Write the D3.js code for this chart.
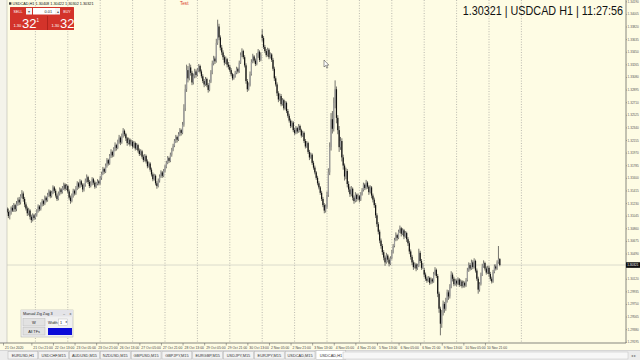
<!DOCTYPE html>
<html><head><meta charset="utf-8">
<script src="https://cdn.jsdelivr.net/npm/d3@7"></script>
<style>
html,body{margin:0;padding:0;background:#fff;overflow:hidden}
svg{display:block;font-family:"Liberation Sans",Arial,sans-serif}
</style></head><body>
<svg id="c" width="640" height="360"></svg>
<script>
// ---------------- data ----------------
const symbol = "USDCAD";
const period = "H1";
const lastOHLC = [1.30408, 1.30422, 1.30302, 1.30321];
const lastPrice = 1.30321;
const clock = "11:27:56";
const days = ["21 Oct","22 Oct","23 Oct","26 Oct","27 Oct","28 Oct","29 Oct","30 Oct","2 Nov","3 Nov","4 Nov","5 Nov","6 Nov","9 Nov","10 Nov","11 Nov","12 Nov"];
// hourly bars [open, high, low, close], 24 per trading day from 21 Oct 00:00
const bars = [
// 21 Oct
[1.3115,1.3118,1.3110,1.3112],[1.3112,1.3114,1.3104,1.3108],[1.3108,1.3119,1.3105,1.3115],[1.3115,1.3117,1.3108,1.3110],[1.3110,1.3115,1.3101,1.3104],[1.3104,1.3112,1.3099,1.3109],[1.3109,1.3118,1.3106,1.3116],[1.3116,1.3120,1.3110,1.3112],[1.3112,1.3123,1.3110,1.3120],[1.3120,1.3122,1.3110,1.3114],[1.3114,1.3126,1.3111,1.3122],[1.3122,1.3131,1.3119,1.3128],[1.3128,1.3132,1.3120,1.3124],[1.3124,1.3136,1.3121,1.3133],[1.3133,1.3142,1.3130,1.3137],[1.3137,1.3140,1.3125,1.3129],[1.3129,1.3132,1.3117,1.3121],[1.3121,1.3124,1.3112,1.3115],[1.3115,1.3118,1.3104,1.3108],[1.3108,1.3116,1.3105,1.3112],[1.3112,1.3114,1.3099,1.3103],[1.3103,1.3106,1.3094,1.3098],[1.3098,1.3108,1.3096,1.3105],[1.3105,1.3107,1.3098,1.3101],
// 22 Oct
[1.3101,1.3108,1.3099,1.3106],[1.3106,1.3114,1.3103,1.3111],[1.3111,1.3121,1.3109,1.3118],[1.3118,1.3120,1.3111,1.3114],[1.3114,1.3124,1.3112,1.3121],[1.3121,1.3129,1.3118,1.3126],[1.3126,1.3128,1.3119,1.3122],[1.3122,1.3134,1.3120,1.3131],[1.3131,1.3133,1.3124,1.3127],[1.3127,1.3138,1.3125,1.3135],[1.3135,1.3143,1.3132,1.3140],[1.3140,1.3142,1.3130,1.3133],[1.3133,1.3141,1.3131,1.3138],[1.3138,1.3149,1.3136,1.3146],[1.3146,1.3148,1.3138,1.3141],[1.3141,1.3144,1.3131,1.3134],[1.3134,1.3137,1.3126,1.3129],[1.3129,1.3140,1.3127,1.3137],[1.3137,1.3146,1.3134,1.3143],[1.3143,1.3145,1.3136,1.3139],[1.3139,1.3148,1.3137,1.3145],[1.3145,1.3153,1.3142,1.3150],[1.3150,1.3152,1.3141,1.3144],[1.3144,1.3151,1.3142,1.3148],
// 23 Oct
[1.3148,1.3150,1.3137,1.3140],[1.3140,1.3143,1.3128,1.3131],[1.3131,1.3134,1.3122,1.3126],[1.3126,1.3137,1.3124,1.3134],[1.3134,1.3144,1.3131,1.3141],[1.3141,1.3143,1.3134,1.3137],[1.3137,1.3148,1.3135,1.3145],[1.3145,1.3155,1.3142,1.3152],[1.3152,1.3154,1.3144,1.3147],[1.3147,1.3158,1.3145,1.3155],[1.3155,1.3157,1.3147,1.3150],[1.3150,1.3152,1.3139,1.3143],[1.3143,1.3152,1.3140,1.3149],[1.3149,1.3159,1.3147,1.3156],[1.3156,1.3165,1.3153,1.3161],[1.3161,1.3163,1.3151,1.3154],[1.3154,1.3157,1.3145,1.3148],[1.3148,1.3155,1.3146,1.3152],[1.3152,1.3161,1.3149,1.3158],[1.3158,1.3160,1.3150,1.3153],[1.3153,1.3156,1.3144,1.3147],[1.3147,1.3154,1.3145,1.3151],[1.3151,1.3158,1.3149,1.3155],[1.3155,1.3157,1.3149,1.3152],
// 26 Oct
[1.3152,1.3163,1.3150,1.3160],[1.3160,1.3169,1.3157,1.3166],[1.3166,1.3176,1.3164,1.3173],[1.3173,1.3175,1.3166,1.3169],[1.3169,1.3181,1.3167,1.3178],[1.3178,1.3189,1.3175,1.3186],[1.3186,1.3188,1.3178,1.3181],[1.3181,1.3195,1.3179,1.3192],[1.3192,1.3202,1.3189,1.3198],[1.3198,1.3200,1.3190,1.3193],[1.3193,1.3205,1.3191,1.3202],[1.3202,1.3212,1.3199,1.3208],[1.3208,1.3210,1.3200,1.3204],[1.3204,1.3216,1.3202,1.3213],[1.3213,1.3223,1.3210,1.3219],[1.3219,1.3221,1.3208,1.3212],[1.3212,1.3225,1.3210,1.3222],[1.3222,1.3233,1.3219,1.3229],[1.3229,1.3231,1.3221,1.3224],[1.3224,1.3226,1.3214,1.3218],[1.3218,1.3220,1.3207,1.3211],[1.3211,1.3219,1.3209,1.3216],[1.3216,1.3218,1.3206,1.3209],[1.3209,1.3216,1.3207,1.3213],
// 27 Oct
[1.3213,1.3215,1.3203,1.3206],[1.3206,1.3214,1.3204,1.3211],[1.3211,1.3213,1.3200,1.3203],[1.3203,1.3211,1.3201,1.3208],[1.3208,1.3210,1.3197,1.3200],[1.3200,1.3203,1.3192,1.3195],[1.3195,1.3202,1.3193,1.3199],[1.3199,1.3201,1.3188,1.3191],[1.3191,1.3194,1.3183,1.3186],[1.3186,1.3195,1.3184,1.3192],[1.3192,1.3194,1.3181,1.3184],[1.3184,1.3187,1.3174,1.3177],[1.3177,1.3184,1.3175,1.3181],[1.3181,1.3183,1.3169,1.3172],[1.3172,1.3175,1.3162,1.3165],[1.3165,1.3168,1.3155,1.3158],[1.3158,1.3166,1.3156,1.3163],[1.3163,1.3165,1.3149,1.3152],[1.3152,1.3155,1.3144,1.3148],[1.3148,1.3159,1.3146,1.3156],[1.3156,1.3165,1.3153,1.3162],[1.3162,1.3171,1.3160,1.3168],[1.3168,1.3170,1.3160,1.3163],[1.3163,1.3173,1.3161,1.3170],
// 28 Oct
[1.3170,1.3179,1.3168,1.3176],[1.3176,1.3185,1.3174,1.3182],[1.3182,1.3192,1.3180,1.3189],[1.3189,1.3191,1.3182,1.3185],[1.3185,1.3197,1.3183,1.3194],[1.3194,1.3204,1.3191,1.3201],[1.3201,1.3210,1.3199,1.3207],[1.3207,1.3217,1.3205,1.3214],[1.3214,1.3223,1.3211,1.3220],[1.3220,1.3222,1.3212,1.3216],[1.3216,1.3227,1.3214,1.3224],[1.3224,1.3233,1.3221,1.3230],[1.3230,1.3232,1.3222,1.3226],[1.3226,1.3242,1.3224,1.3238],[1.3238,1.3268,1.3235,1.3262],[1.3262,1.3297,1.3258,1.3290],[1.3290,1.3326,1.3286,1.3318],[1.3318,1.3324,1.3300,1.3306],[1.3306,1.3328,1.3303,1.3322],[1.3322,1.3326,1.3310,1.3314],[1.3314,1.3317,1.3296,1.3300],[1.3300,1.3313,1.3297,1.3309],[1.3309,1.3320,1.3306,1.3316],[1.3316,1.3319,1.3307,1.3311],
// 29 Oct
[1.3311,1.3321,1.3309,1.3318],[1.3318,1.3327,1.3315,1.3324],[1.3324,1.3326,1.3313,1.3316],[1.3316,1.3319,1.3306,1.3309],[1.3309,1.3312,1.3299,1.3302],[1.3302,1.3305,1.3293,1.3297],[1.3297,1.3308,1.3295,1.3305],[1.3305,1.3307,1.3293,1.3296],[1.3296,1.3299,1.3285,1.3289],[1.3289,1.3304,1.3287,1.3301],[1.3301,1.3318,1.3299,1.3314],[1.3314,1.3332,1.3312,1.3328],[1.3328,1.3339,1.3325,1.3335],[1.3335,1.3338,1.3327,1.3331],[1.3331,1.3364,1.3329,1.3358],[1.3358,1.3392,1.3355,1.3382],[1.3382,1.3386,1.3362,1.3366],[1.3366,1.3369,1.3347,1.3351],[1.3351,1.3355,1.3340,1.3344],[1.3344,1.3347,1.3333,1.3337],[1.3337,1.3340,1.3325,1.3329],[1.3329,1.3338,1.3327,1.3334],[1.3334,1.3336,1.3322,1.3326],[1.3326,1.3330,1.3319,1.3323],
// 30 Oct
[1.3323,1.3326,1.3315,1.3318],[1.3318,1.3321,1.3309,1.3312],[1.3312,1.3314,1.3303,1.3306],[1.3306,1.3312,1.3304,1.3309],[1.3309,1.3317,1.3307,1.3314],[1.3314,1.3323,1.3312,1.3320],[1.3320,1.3322,1.3313,1.3316],[1.3316,1.3332,1.3314,1.3329],[1.3329,1.3344,1.3327,1.3340],[1.3340,1.3350,1.3337,1.3346],[1.3346,1.3348,1.3334,1.3337],[1.3337,1.3340,1.3322,1.3325],[1.3325,1.3328,1.3298,1.3302],[1.3302,1.3305,1.3286,1.3290],[1.3290,1.3300,1.3288,1.3296],[1.3296,1.3316,1.3294,1.3312],[1.3312,1.3334,1.3310,1.3330],[1.3330,1.3342,1.3328,1.3338],[1.3338,1.3340,1.3329,1.3332],[1.3332,1.3335,1.3324,1.3327],[1.3327,1.3343,1.3325,1.3339],[1.3339,1.3349,1.3336,1.3345],[1.3345,1.3347,1.3330,1.3333],[1.3333,1.3344,1.3331,1.3340],
// 2 Nov
[1.3370,1.3378,1.3360,1.3365],[1.3365,1.3368,1.3349,1.3352],[1.3352,1.3355,1.3343,1.3346],[1.3346,1.3349,1.3337,1.3340],[1.3340,1.3351,1.3338,1.3348],[1.3348,1.3350,1.3334,1.3337],[1.3337,1.3344,1.3335,1.3341],[1.3341,1.3343,1.3330,1.3333],[1.3333,1.3336,1.3317,1.3320],[1.3320,1.3323,1.3302,1.3306],[1.3306,1.3309,1.3294,1.3297],[1.3297,1.3300,1.3280,1.3284],[1.3284,1.3287,1.3271,1.3275],[1.3275,1.3284,1.3273,1.3280],[1.3280,1.3283,1.3265,1.3268],[1.3268,1.3277,1.3266,1.3274],[1.3274,1.3276,1.3259,1.3262],[1.3262,1.3273,1.3260,1.3270],[1.3270,1.3272,1.3255,1.3258],[1.3258,1.3261,1.3248,1.3251],[1.3251,1.3254,1.3241,1.3244],[1.3244,1.3247,1.3233,1.3236],[1.3236,1.3244,1.3234,1.3241],[1.3241,1.3243,1.3227,1.3230],
// 3 Nov
[1.3230,1.3233,1.3223,1.3226],[1.3226,1.3236,1.3224,1.3233],[1.3233,1.3235,1.3225,1.3228],[1.3228,1.3239,1.3226,1.3236],[1.3236,1.3238,1.3227,1.3230],[1.3230,1.3232,1.3219,1.3222],[1.3222,1.3229,1.3220,1.3226],[1.3226,1.3228,1.3211,1.3214],[1.3214,1.3217,1.3203,1.3206],[1.3206,1.3214,1.3204,1.3211],[1.3211,1.3213,1.3195,1.3198],[1.3198,1.3201,1.3186,1.3190],[1.3190,1.3197,1.3188,1.3194],[1.3194,1.3196,1.3179,1.3182],[1.3182,1.3185,1.3172,1.3175],[1.3175,1.3178,1.3165,1.3168],[1.3168,1.3170,1.3157,1.3160],[1.3160,1.3163,1.3149,1.3152],[1.3152,1.3155,1.3143,1.3146],[1.3146,1.3148,1.3135,1.3138],[1.3138,1.3141,1.3126,1.3129],[1.3129,1.3132,1.3117,1.3120],[1.3120,1.3123,1.3108,1.3112],[1.3112,1.3121,1.3109,1.3118],
// 4 Nov
[1.3118,1.3140,1.3115,1.3135],[1.3135,1.3174,1.3132,1.3168],[1.3168,1.3212,1.3164,1.3205],[1.3205,1.3255,1.3200,1.3246],[1.3246,1.3258,1.3225,1.3232],[1.3232,1.3278,1.3228,1.3270],[1.3270,1.3303,1.3262,1.3290],[1.3290,1.3294,1.3240,1.3248],[1.3248,1.3252,1.3224,1.3230],[1.3230,1.3236,1.3198,1.3205],[1.3205,1.3220,1.3201,1.3214],[1.3214,1.3218,1.3184,1.3190],[1.3190,1.3194,1.3172,1.3178],[1.3178,1.3181,1.3156,1.3162],[1.3162,1.3175,1.3158,1.3170],[1.3170,1.3173,1.3146,1.3151],[1.3151,1.3155,1.3139,1.3143],[1.3143,1.3147,1.3132,1.3136],[1.3136,1.3148,1.3133,1.3144],[1.3144,1.3146,1.3127,1.3131],[1.3131,1.3134,1.3122,1.3126],[1.3126,1.3139,1.3124,1.3135],[1.3135,1.3137,1.3125,1.3129],[1.3129,1.3137,1.3127,1.3133],
// 5 Nov
[1.3133,1.3135,1.3124,1.3128],[1.3128,1.3139,1.3126,1.3136],[1.3136,1.3145,1.3134,1.3142],[1.3142,1.3153,1.3140,1.3150],[1.3150,1.3152,1.3142,1.3145],[1.3145,1.3157,1.3143,1.3153],[1.3153,1.3155,1.3144,1.3147],[1.3147,1.3149,1.3135,1.3139],[1.3139,1.3149,1.3137,1.3146],[1.3146,1.3148,1.3130,1.3134],[1.3134,1.3137,1.3124,1.3128],[1.3128,1.3131,1.3116,1.3120],[1.3120,1.3123,1.3101,1.3105],[1.3105,1.3108,1.3088,1.3092],[1.3092,1.3095,1.3077,1.3081],[1.3081,1.3084,1.3064,1.3068],[1.3068,1.3071,1.3056,1.3060],[1.3060,1.3063,1.3047,1.3051],[1.3051,1.3054,1.3039,1.3043],[1.3043,1.3046,1.3031,1.3036],[1.3036,1.3050,1.3034,1.3046],[1.3046,1.3048,1.3036,1.3040],[1.3040,1.3043,1.3030,1.3034],[1.3034,1.3045,1.3032,1.3042],
// 6 Nov
[1.3042,1.3054,1.3040,1.3051],[1.3051,1.3063,1.3049,1.3060],[1.3060,1.3072,1.3058,1.3069],[1.3069,1.3080,1.3067,1.3076],[1.3076,1.3078,1.3068,1.3072],[1.3072,1.3084,1.3070,1.3081],[1.3081,1.3090,1.3079,1.3086],[1.3086,1.3088,1.3074,1.3078],[1.3078,1.3086,1.3076,1.3083],[1.3083,1.3085,1.3070,1.3074],[1.3074,1.3082,1.3072,1.3079],[1.3079,1.3081,1.3066,1.3070],[1.3070,1.3073,1.3060,1.3064],[1.3064,1.3067,1.3048,1.3052],[1.3052,1.3055,1.3040,1.3044],[1.3044,1.3047,1.3032,1.3036],[1.3036,1.3039,1.3025,1.3029],[1.3029,1.3036,1.3027,1.3033],[1.3033,1.3035,1.3023,1.3027],[1.3027,1.3034,1.3025,1.3031],[1.3031,1.3056,1.3029,1.3050],[1.3050,1.3053,1.3035,1.3038],[1.3038,1.3041,1.3025,1.3028],[1.3028,1.3035,1.3026,1.3032],
// 9 Nov
[1.3025,1.3028,1.3014,1.3018],[1.3018,1.3021,1.3009,1.3012],[1.3012,1.3015,1.3006,1.3009],[1.3009,1.3016,1.3007,1.3013],[1.3013,1.3015,1.3003,1.3006],[1.3006,1.3014,1.3004,1.3011],[1.3011,1.3013,1.3005,1.3008],[1.3008,1.3022,1.3006,1.3019],[1.3019,1.3029,1.3017,1.3025],[1.3025,1.3027,1.3013,1.3016],[1.3016,1.3019,1.2985,1.2990],[1.2990,1.2993,1.2962,1.2968],[1.2968,1.2971,1.2929,1.2946],[1.2946,1.2966,1.2940,1.2962],[1.2962,1.2980,1.2958,1.2975],[1.2975,1.2978,1.2962,1.2968],[1.2968,1.2984,1.2965,1.2980],[1.2980,1.2996,1.2977,1.2992],[1.2992,1.2995,1.2981,1.2986],[1.2986,1.3004,1.2983,1.3000],[1.3000,1.3023,1.2998,1.3018],[1.3018,1.3021,1.3008,1.3012],[1.3012,1.3015,1.3001,1.3004],[1.3004,1.3012,1.3002,1.3009],
// 10 Nov
[1.3009,1.3011,1.3001,1.3005],[1.3005,1.3014,1.3003,1.3011],[1.3011,1.3013,1.3000,1.3003],[1.3003,1.3011,1.3001,1.3008],[1.3008,1.3010,1.2998,1.3001],[1.3001,1.3009,1.2999,1.3006],[1.3006,1.3008,1.2999,1.3002],[1.3002,1.3013,1.3000,1.3010],[1.3010,1.3028,1.3008,1.3024],[1.3024,1.3036,1.3022,1.3032],[1.3032,1.3035,1.3024,1.3027],[1.3027,1.3040,1.3025,1.3036],[1.3036,1.3039,1.3026,1.3029],[1.3029,1.3042,1.3027,1.3038],[1.3038,1.3040,1.3021,1.3024],[1.3024,1.3027,1.3009,1.3012],[1.3012,1.3015,1.2990,1.2996],[1.2996,1.3007,1.2993,1.3004],[1.3004,1.3021,1.3002,1.3018],[1.3018,1.3034,1.3016,1.3030],[1.3030,1.3039,1.3028,1.3035],[1.3035,1.3037,1.3024,1.3027],[1.3027,1.3030,1.3018,1.3021],[1.3021,1.3031,1.3019,1.3028],
// 11 Nov
[1.3028,1.3031,1.3015,1.3019],[1.3019,1.3022,1.3009,1.3012],[1.3012,1.3015,1.3005,1.3008],[1.3008,1.3025,1.3006,1.3022],[1.3022,1.3033,1.3020,1.3030],[1.3030,1.3033,1.3024,1.3027],[1.3027,1.3039,1.3025,1.3036],[1.3036,1.3060,1.3034,1.30408],[1.30408,1.30422,1.30302,1.30321]
];
const timeLabels = ["21 Oct 2020","21 Oct 21:00","22 Oct 13:00","23 Oct 05:00","23 Oct 21:00","26 Oct 13:00","27 Oct 05:00","27 Oct 21:00","28 Oct 13:00","29 Oct 05:00","29 Oct 21:00","30 Oct 13:00","2 Nov 05:00","2 Nov 21:00","3 Nov 13:00","4 Nov 05:00","4 Nov 21:00","5 Nov 13:00","6 Nov 05:00","6 Nov 21:00","9 Nov 13:00","10 Nov 05:00","10 Nov 21:00"];
const priceTicks = [1.34190,1.34005,1.33820,1.33635,1.33450,1.33265,1.33080,1.32895,1.32710,1.32525,1.32340,1.32155,1.31970,1.31785,1.31600,1.31415,1.31230,1.31045,1.30860,1.30675,1.30490,1.30305,1.30120,1.29935,1.29750,1.29565,1.29380,1.29195];
const tabs = ["EURUSD,H1","USDCHF,M15","AUDUSD,M15","NZDUSD,M15","GBPUSD,M15","GBPJPY,M15","EURGBP,M15","USDJPY,M15","EURJPY,M15","USDCAD,M15","USDCAD,H1"];
const lotSize = "0.01";
const bidParts = ["1.30","32","1"];
const askParts = ["1.30","32","4"];

// ---------------- layout ----------------
const W = 640, H = 360;
const plotL = 7, plotR = 626, plotT = 0, plotB = 343;
const cream = "#fefce4";

const svg = d3.select("#c");
svg.append("rect").attr("width", W).attr("height", H).attr("fill", cream);

const x = d3.scaleLinear().domain([0, 461]).range([3, 625.35]);
const y = d3.scaleLinear().domain([1.29177, 1.34209]).range([plotB, plotT]);

function barIndex(label) {
  const p = label.split(" ");
  const d = days.indexOf(p[0] + " " + p[1]);
  const h = p[2].includes(":") ? +p[2].split(":")[0] : 0;
  return d * 24 + h;
}

svg.append("clipPath").attr("id", "clip").append("rect")
  .attr("x", plotL).attr("y", plotT).attr("width", plotR - plotL).attr("height", plotB - plotT);

// left margin strip
svg.append("rect").attr("x", 0).attr("y", 0).attr("width", plotL).attr("height", plotB).attr("fill", "#f4f3ea");
svg.append("line").attr("x1", plotL).attr("x2", plotL).attr("y1", 0).attr("y2", plotB).attr("stroke", "#b8b8b0").attr("stroke-width", 0.6);

// day separators (dotted)
const sep = d3.range(1, days.length).map(d => d * 24);
svg.append("g").selectAll("line").data(sep).join("line")
  .attr("x1", d => x(d)).attr("x2", d => x(d)).attr("y1", plotT).attr("y2", plotB)
  .attr("stroke", "#8c8c8c").attr("stroke-width", 0.6).attr("stroke-dasharray", "1,1.6");

// current price line
svg.append("line").attr("x1", plotL).attr("x2", plotR).attr("y1", y(lastPrice)).attr("y2", y(lastPrice))
  .attr("stroke", "#c4c4bc").attr("stroke-width", 0.6);

// candles
const cg = svg.append("g").attr("clip-path", "url(#clip)");
cg.selectAll("line").data(bars).join("line")
  .attr("x1", (d, i) => x(i)).attr("x2", (d, i) => x(i))
  .attr("y1", d => y(d[1])).attr("y2", d => y(d[2]))
  .attr("stroke", "#3a3a3a").attr("stroke-width", 0.7);
cg.selectAll("rect").data(bars).join("rect")
  .attr("x", (d, i) => x(i) - 0.6).attr("width", 1.2)
  .attr("y", d => y(Math.max(d[0], d[3])))
  .attr("height", d => Math.max(0.6, Math.abs(y(d[0]) - y(d[3]))))
  .attr("fill", d => d[3] >= d[0] ? "#9c9c9c" : "#111");

// frame
svg.append("line").attr("x1", plotR).attr("x2", plotR).attr("y1", 0).attr("y2", plotB).attr("stroke", "#555").attr("stroke-width", 0.7);
svg.append("line").attr("x1", 0).attr("x2", plotR).attr("y1", plotB).attr("y2", plotB).attr("stroke", "#555").attr("stroke-width", 0.7);

// price axis
const ya = svg.append("g").attr("transform", `translate(${plotR},0)`)
  .call(d3.axisRight(y).tickValues(priceTicks).tickFormat(d3.format(".5f")).tickSize(1).tickPadding(0.6));
ya.select(".domain").remove();
ya.selectAll("line").attr("stroke", "#666").attr("stroke-width", 0.5);
ya.selectAll("text").attr("font-size", 3.1).attr("fill", "#555").attr("font-family", "Liberation Sans, Arial");

// price marker
const py = y(lastPrice);
svg.append("rect").attr("x", plotR).attr("y", py - 2.8).attr("width", W - plotR).attr("height", 5.6).attr("fill", "#111");
svg.append("text").attr("x", plotR + 1.2).attr("y", py + 1.2).attr("font-size", 3.1).attr("fill", "#fff").text(d3.format(".5f")(lastPrice));

// time axis
const xa = svg.append("g").attr("transform", `translate(0,${plotB})`)
  .call(d3.axisBottom(x).tickValues(timeLabels.map(barIndex))
    .tickFormat((d, i) => timeLabels[i]).tickSize(2.5).tickPadding(1));
xa.select(".domain").remove();
xa.selectAll("line").attr("stroke", "#555").attr("stroke-width", 0.5);
xa.selectAll("text").attr("font-size", 3.4).attr("fill", "#444").attr("text-anchor", "start").attr("dx", 1.5)
  .attr("font-family", "Liberation Sans, Arial");

// tabs bar
svg.append("rect").attr("x", 0).attr("y", 350).attr("width", W).attr("height", 10).attr("fill", "#ececec");
svg.append("line").attr("x1", 0).attr("x2", W).attr("y1", 350.5).attr("y2", 350.5).attr("stroke", "#c8c8c8").attr("stroke-width", 0.6);
const tabW = 30.8, tab0 = 8;
const tg = svg.append("g");
tabs.forEach((t, i) => {
  const active = i === tabs.length - 1;
  const tx = tab0 + i * tabW;
  tg.append("rect").attr("x", tx).attr("y", active ? 350.5 : 351.5).attr("width", tabW - 1).attr("height", active ? 9 : 7.5)
    .attr("fill", active ? "#ffffff" : "#f3f3f3").attr("stroke", "#b4b4b4").attr("stroke-width", 0.5);
  tg.append("text").attr("x", tx + (tabW - 1) / 2).attr("y", 356.6).attr("text-anchor", "middle")
    .attr("font-size", 3.9).attr("fill", "#333").text(t);
});
svg.append("rect").attr("x", 343).attr("y", 352).attr("width", 285).attr("height", 7).attr("fill", "#f7f7f7").attr("stroke", "#c0c0c0").attr("stroke-width", 0.5);
svg.append("text").attr("x", 633.5).attr("y", 357).attr("text-anchor", "middle").attr("font-size", 3.6).attr("fill", "#777").text("◂ ▸");

// header text (top-left)
svg.append("rect").attr("x", 9).attr("y", 2.3).attr("width", 2.4).attr("height", 2.4).attr("fill", "#3a3a3a");
svg.append("text").attr("x", 12.5).attr("y", 5.2).attr("font-size", 3.8).attr("fill", "#111")
  .text(`${symbol},${period} ${lastOHLC.map(d3.format(".5f")).join(" ")}`);
svg.append("text").attr("x", 180).attr("y", 5.2).attr("font-size", 4.6).attr("fill", "#d83a2a").text("Test");

// one-click trading panel
const red = "#d3332a";
const tp = svg.append("g");
tp.append("rect").attr("x", 10).attr("y", 7).attr("width", 64).attr("height", 23).attr("fill", red).attr("rx", 0.6);
tp.append("rect").attr("x", 26).attr("y", 8).attr("width", 6).attr("height", 6.5).attr("fill", "#f4f4f4");
tp.append("rect").attr("x", 33).attr("y", 8).attr("width", 22).attr("height", 6.5).attr("fill", "#ffffff");
tp.append("rect").attr("x", 55).attr("y", 8).attr("width", 5).attr("height", 6.5).attr("fill", "#f4f4f4");
tp.append("text").attr("x", 29).attr("y", 12.6).attr("text-anchor", "middle").attr("font-size", 3.5).attr("fill", "#555").text("▾");
tp.append("text").attr("x", 57.5).attr("y", 12.6).attr("text-anchor", "middle").attr("font-size", 3.5).attr("fill", "#555").text("▴");
tp.append("text").attr("x", 52).attr("y", 12.6).attr("text-anchor", "end").attr("font-size", 3.8).attr("fill", "#222").text(lotSize);
tp.append("text").attr("x", 18).attr("y", 12.6).attr("text-anchor", "middle").attr("font-size", 3.6).attr("fill", "#fff").text("SELL");
tp.append("text").attr("x", 67).attr("y", 12.6).attr("text-anchor", "middle").attr("font-size", 3.6).attr("fill", "#fff").text("BUY");
tp.append("line").attr("x1", 47.5).attr("x2", 47.5).attr("y1", 16).attr("y2", 30).attr("stroke", "#a82019").attr("stroke-width", 0.8);
[[bidParts, 12], [askParts, 50]].forEach(([pp, bx]) => {
  tp.append("text").attr("x", bx + 1.5).attr("y", 26.5).attr("font-size", 4).attr("fill", "#fff").text(pp[0]);
  tp.append("text").attr("x", bx + 10).attr("y", 28).attr("font-size", 13).attr("fill", "#fff").text(pp[1]);
  tp.append("text").attr("x", bx + 24.5).attr("y", 21.5).attr("font-size", 4.5).attr("fill", "#fff").text(pp[2]);
});

// big title (top-right), horizontally condensed
svg.append("g").attr("transform", "translate(623,15) scale(0.865,1)")
  .append("text").attr("x", 0).attr("y", 0).attr("text-anchor", "end").attr("font-size", 12.5)
  .attr("fill", "#111")
  .text(`${d3.format(".5f")(lastPrice)} | ${symbol} ${period} | ${clock}`);

// mouse pointer
svg.append("path").attr("d", "M324,60 l0,7 l1.6,-1.5 l1.2,2.6 l1,-0.5 l-1.2,-2.5 l2.2,0 z")
  .attr("fill", "#fff").attr("stroke", "#222").attr("stroke-width", 0.45);

// Manual Zig Zag panel
const zp = svg.append("g");
zp.append("rect").attr("x", 21).attr("y", 310).attr("width", 52).attr("height", 27).attr("fill", "#f0f0f0").attr("stroke", "#a8a8a8").attr("stroke-width", 0.5);
zp.append("rect").attr("x", 21).attr("y", 310).attr("width", 52).attr("height", 6.5).attr("fill", "#e4e4e8");
zp.append("text").attr("x", 23).attr("y", 314.6).attr("font-size", 3.8).attr("fill", "#222").text("Manual Zig Zag 3");
zp.append("text").attr("x", 63).attr("y", 314.6).attr("font-size", 3.8).attr("fill", "#444").text("–");
zp.append("text").attr("x", 69.5).attr("y", 314.6).attr("font-size", 3.8).attr("fill", "#444").text("x");
zp.append("rect").attr("x", 23).attr("y", 318.5).attr("width", 22).attr("height", 7.5).attr("fill", "#e2e2e2").attr("stroke", "#b0b0b0").attr("stroke-width", 0.4);
zp.append("text").attr("x", 34).attr("y", 323.6).attr("text-anchor", "middle").attr("font-size", 4).attr("fill", "#222").text("W");
zp.append("text").attr("x", 48).attr("y", 323.6).attr("font-size", 3.8).attr("fill", "#222").text("Width:");
zp.append("rect").attr("x", 58.5).attr("y", 319).attr("width", 9).attr("height", 6.5).attr("fill", "#fff").attr("stroke", "#b0b0b0").attr("stroke-width", 0.4);
zp.append("text").attr("x", 60).attr("y", 323.6).attr("font-size", 3.8).attr("fill", "#222").text("1");
zp.append("text").attr("x", 64.5).attr("y", 323.4).attr("font-size", 3).attr("fill", "#555").text("⬍");
zp.append("rect").attr("x", 23).attr("y", 327.5).attr("width", 22).attr("height", 7.5).attr("fill", "#e2e2e2").attr("stroke", "#b0b0b0").attr("stroke-width", 0.4);
zp.append("text").attr("x", 34).attr("y", 332.6).attr("text-anchor", "middle").attr("font-size", 3.8).attr("fill", "#222").text("All TFs");
zp.append("rect").attr("x", 48).attr("y", 328).attr("width", 24).attr("height", 7).attr("fill", "#0b0bd8");
</script>
</body></html>
